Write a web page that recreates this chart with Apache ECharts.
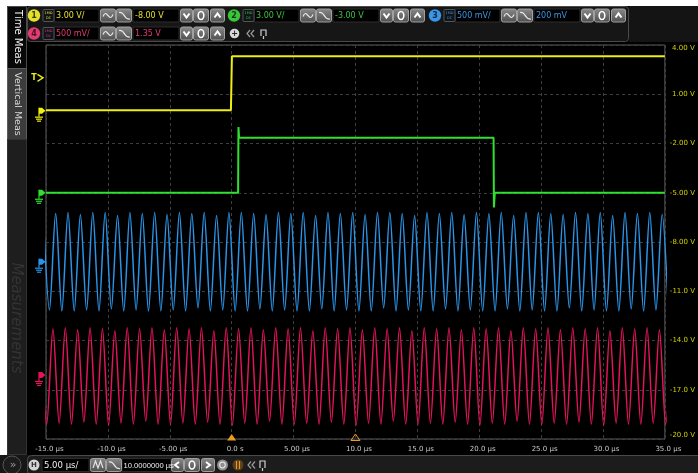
<!DOCTYPE html>
<html>
<head>
<meta charset="utf-8">
<script src="https://cdn.jsdelivr.net/npm/echarts@6/dist/echarts.min.js"></script>
<style>
html,body{margin:0;padding:0;background:#fff;}
#scope{width:698px;height:473px;}
</style>
</head>
<body>
<div id="scope"></div>
<script>
// ---- horizontal (time) axis, µs ----
const X_MIN = -15, X_MAX = 35, X_DIV = 5;
const xTickLabels = ['-15.0 µs','-10.0 µs','-5.00 µs','0.0 s','5.00 µs','10.0 µs','15.0 µs','20.0 µs','25.0 µs','30.0 µs','35.0 µs'];
// graticule labels, channel 1 volts, bottom division first
const yTickLabels = ['-20.0 V','-17.0 V','-14.0 V','-11.0 V','-8.00 V','-5.00 V','-2.00 V','1.00 V','4.00 V'];
const DIVS = 8;

// ---- vertical settings per channel (V/div, V at screen centre) ----
const ch1Scale = 3.0, ch1Offset = -8.0;
const ch2Scale = 3.0, ch2Offset = -3.0;
const ch3Scale = 0.5, ch3Offset = 0.2;
const ch4Scale = 0.5, ch4Offset = 1.35;
const trigLevel = 2.0;      // ch1 trigger level, V
const trigTime = 0;         // trigger point, µs
const delayRef = 10;        // horizontal delay reference, µs

// ---- channel 1: logic edge (t µs, V) ----
const ch1Trace = [[-15,0.02],[-0.06,0.02],[0.02,3.31],[35,3.31]];
// ---- channel 2: gated pulse (t µs, V) ----
const ch2Trace = [[-15,0.0],[0.52,0.0],[0.55,4.0],[0.60,3.35],[21.16,3.35],[21.19,-0.9],[21.26,0.0],[35,0.0]];

// ---- channel 3: 1 MHz sine, successive peaks/troughs every 0.5 µs ----
const ch3T0 = -15.22, ch3Dt = 0.5;
const ch3Extrema = [
 0.50,-0.49, 0.49,-0.50, 0.50,-0.50, 0.48,-0.49, 0.50,-0.50, 0.50,-0.48, 0.47,-0.50, 0.50,-0.49,
 0.49,-0.50, 0.50,-0.50, 0.48,-0.49, 0.50,-0.50, 0.49,-0.47, 0.50,-0.50, 0.47,-0.49, 0.50,-0.50,
 0.50,-0.50, 0.49,-0.48, 0.48,-0.50, 0.50,-0.49, 0.49,-0.50, 0.50,-0.50, 0.47,-0.48, 0.50,-0.50,
 0.49,-0.49, 0.50,-0.50, 0.48,-0.50, 0.50,-0.47, 0.50,-0.50, 0.49,-0.49, 0.47,-0.50, 0.50,-0.50,
 0.49,-0.48, 0.50,-0.50, 0.48,-0.49, 0.50,-0.50, 0.49,-0.50, 0.50,-0.48, 0.47,-0.50, 0.50,-0.49,
 0.50,-0.50, 0.49,-0.50, 0.48,-0.47, 0.50,-0.50, 0.49,-0.49, 0.50,-0.50, 0.47,-0.50, 0.50,-0.48,
 0.49,-0.50, 0.50,-0.49, 0.48,-0.50
];

// ---- channel 4: 1 MHz sine, successive peaks/troughs every 0.5 µs ----
const ch4T0 = -15.44, ch4Dt = 0.5;
const ch4Extrema = [
 0.48,-0.50, 0.47,-0.49, 0.48,-0.50, 0.46,-0.48, 0.48,-0.50, 0.47,-0.51, 0.45,-0.49, 0.48,-0.50,
 0.47,-0.47, 0.48,-0.50, 0.46,-0.50, 0.48,-0.49, 0.47,-0.50, 0.48,-0.48, 0.45,-0.50, 0.48,-0.51,
 0.47,-0.49, 0.48,-0.50, 0.46,-0.47, 0.48,-0.50, 0.47,-0.50, 0.48,-0.49, 0.45,-0.50, 0.48,-0.48,
 0.47,-0.50, 0.48,-0.51, 0.46,-0.49, 0.48,-0.50, 0.47,-0.47, 0.48,-0.50, 0.45,-0.50, 0.48,-0.49,
 0.47,-0.50, 0.48,-0.48, 0.46,-0.50, 0.48,-0.51, 0.47,-0.49, 0.48,-0.50, 0.45,-0.47, 0.48,-0.50,
 0.47,-0.50, 0.48,-0.49, 0.46,-0.50, 0.48,-0.48, 0.47,-0.50, 0.48,-0.51, 0.45,-0.49, 0.48,-0.50,
 0.47,-0.50, 0.48,-0.49, 0.46,-0.50, 0.48
];

const ch3Data = ch3Extrema.map((v, i) => [ch3T0 + i * ch3Dt, v]);
const ch4Data = ch4Extrema.map((v, i) => [ch4T0 + i * ch4Dt, v]);

const C1 = '#eeee10', C2 = '#2fe02f', C3 = '#2a94e8', C4 = '#e3145a';
const UI_FONT = 'DejaVu Sans';

function chAxis(scale, offset) {
  return { type: 'value', show: false, min: offset - scale * DIVS / 2, max: offset + scale * DIVS / 2 };
}

const chart = echarts.init(document.getElementById('scope'), null, { renderer: 'canvas', width: 698, height: 473 });

const lineBase = { type: 'line', showSymbol: false, symbol: 'none', animation: false, silent: true, xAxisIndex: 0 };
const gridLine = { show: true, lineStyle: { color: '#3e3e3e', type: [3, 3], width: 1 } };

chart.setOption({
  backgroundColor: '#000',
  animation: false,
  grid: { left: 46, right: 30, top: 45, bottom: 34, show: true, borderColor: '#5c5c5c', borderWidth: 1, backgroundColor: 'transparent' },
  xAxis: {
    type: 'value', min: X_MIN, max: X_MAX, interval: X_DIV,
    axisLine: { show: false }, axisTick: { show: false },
    splitLine: gridLine,
    axisLabel: {
      color: '#c8c8c8', fontSize: 7, fontFamily: UI_FONT, margin: 7, padding: [0, 0, 0, 7],
      formatter: v => xTickLabels[Math.round((v - X_MIN) / X_DIV)] || ''
    }
  },
  yAxis: [
    {
      type: 'value', min: 0, max: DIVS, interval: 1, position: 'right',
      axisLine: { show: false }, axisTick: { show: false },
      splitLine: gridLine,
      axisLabel: {
        color: '#d2d200', fontSize: 7, fontFamily: UI_FONT, margin: 5, align: 'left',
        verticalAlignMaxLabel: 'top', verticalAlignMinLabel: 'bottom',
        formatter: v => { const s = yTickLabels[Math.round(v)] || ''; return s.charAt(0) === '-' ? s : ' ' + s; }
      }
    },
    chAxis(ch1Scale, ch1Offset),
    chAxis(ch2Scale, ch2Offset),
    chAxis(ch3Scale, ch3Offset),
    chAxis(ch4Scale, ch4Offset)
  ],
  series: [
    Object.assign({}, lineBase, { name: '4', yAxisIndex: 4, data: ch4Data, smooth: 0.3, lineStyle: { color: C4, width: 1.5 } }),
    Object.assign({}, lineBase, { name: '3', yAxisIndex: 3, data: ch3Data, smooth: 0.3, lineStyle: { color: C3, width: 1.5 } }),
    Object.assign({}, lineBase, { name: '2', yAxisIndex: 2, data: ch2Trace, lineStyle: { color: C2, width: 2 } }),
    Object.assign({}, lineBase, { name: '1', yAxisIndex: 1, data: ch1Trace, lineStyle: { color: C1, width: 2 } })
  ]
});

// ---------- instrument frame (panels, buttons, markers) ----------
const G = [];
function rect(x, y, w, h, fill, stroke, r, z) {
  G.push({ type: 'rect', silent: true, z: z || 50, shape: { x, y, width: w, height: h, r: r || 0 }, style: { fill, stroke: stroke || null, lineWidth: 1 } });
}
function txt(x, y, s, color, font, align, extra) {
  G.push(Object.assign({ type: 'text', silent: true, z: 60, x, y,
    style: { text: s, fill: color, font, textAlign: align || 'left', textVerticalAlign: 'middle', verticalAlign: 'middle' } }, extra || {}));
}
function circle(cx, cy, r, fill, stroke, lw, z) {
  G.push({ type: 'circle', silent: true, z: z || 58, shape: { cx, cy, r }, style: { fill: fill || null, stroke: stroke || null, lineWidth: lw || 1 } });
}
function pline(points, stroke, lw, smooth, z) {
  G.push({ type: 'polyline', silent: true, z: z || 62, shape: { points, smooth: smooth || 0 }, style: { stroke, lineWidth: lw || 1, fill: null } });
}
function poly(points, fill, stroke, z) {
  G.push({ type: 'polygon', silent: true, z: z || 62, shape: { points }, style: { fill: fill || null, stroke: stroke || null, lineWidth: 1 } });
}
const btnFill = { type: 'linear', x: 0, y: 0, x2: 0, y2: 1, colorStops: [{ offset: 0, color: '#8a8a8a' }, { offset: 1, color: '#4e4e4e' }] };
function btn(x, y, w, h) {
  G.push({ type: 'rect', silent: true, z: 55, shape: { x: x + 0.5, y: y + 0.5, width: w - 1, height: h - 1, r: 2 }, style: { fill: btnFill, stroke: '#a0a0a0', lineWidth: 1 } });
}
function chevron(cx, cy, down) {
  const d = down ? 1 : -1;
  pline([[cx - 3, cy - 2 * d], [cx, cy + 2 * d], [cx + 3, cy - 2 * d]], '#ffffff', 2);
}
function ring(cx, cy) {
  G.push({ type: 'ellipse', silent: true, z: 62, shape: { cx, cy, rx: 2.8, ry: 4 }, style: { fill: null, stroke: '#ffffff', lineWidth: 1.6 } });
}
function waveBtns(x, y) {
  btn(x, y, 16, 14); btn(x + 16, y, 16, 14);
  pline([[x + 3, y + 8], [x + 5.5, y + 5], [x + 8, y + 7], [x + 10.5, y + 9], [x + 13, y + 6]], '#e8e8e8', 1.2, 0.5);
  pline([[x + 19, y + 4], [x + 22, y + 4.5], [x + 25, y + 8], [x + 27, y + 10], [x + 30, y + 10.5]], '#e8e8e8', 1.2, 0.5);
}
function posBtns(x, y) {
  btn(x, y, 13, 14); chevron(x + 6.5, y + 7, true);
  btn(x + 13, y, 16, 14); ring(x + 21, y + 7);
  btn(x + 30, y, 15, 14); chevron(x + 37.5, y + 7, false);
}
function field(x, y, w, s, color) {
  rect(x, y + 0.5, w, 13, '#000', '#2c2c2c', 0, 52);
  txt(x + 2, y + 7.5, s, color, '8px ' + UI_FONT, 'left');
}
function channelRow(dx, y, num, color, dark, scaleTxt, offTxt) {
  circle(34 + dx, y + 7, 6.2, color, null, 1, 58);
  txt(34 + dx, y + 7.3, num, dark, 'bold 8px ' + UI_FONT, 'center');
  rect(43 + dx, y + 1, 11, 12, '#101418', '#50555a', 1, 56);
  txt(48.5 + dx, y + 4.5, '1MΩ', color, '3.5px ' + UI_FONT, 'center');
  txt(48.5 + dx, y + 9.5, 'DC', color, '3.5px ' + UI_FONT, 'center');
  field(54 + dx, y, 45, scaleTxt, color);
  waveBtns(100 + dx, y);
  field(133 + dx, y, 46, offTxt, color);
  posBtns(180 + dx, y);
}

// white page edge
rect(0, 0, 698, 6, '#ffffff', null, 0, 40);
rect(0, 0, 7, 455, '#ffffff', null, 0, 40);
// top panel
rect(629, 6, 69, 36, '#141414', null, 0, 41);
rect(27.5, 6.5, 601, 35, '#161616', '#4a4a4a', 3, 45);
channelRow(0, 8.5, '1', '#e4e02a', '#3a3a10', '3.00 V/', '-8.00 V');
channelRow(200, 8.5, '2', '#3cc43c', '#103a10', '3.00 V/', '-3.00 V');
channelRow(401, 8.5, '3', '#3a96e6', '#0e2c4a', '500 mV/', '200 mV');
channelRow(0, 26.5, '4', '#e23a72', '#4a1024', '500 mV/', '1.35 V');
circle(234.5, 33.5, 4.8, '#d8d8d8', null, 1, 58);
txt(234.5, 33.7, '+', '#222', 'bold 8px ' + UI_FONT, 'center');
pline([[250, 30], [247, 33.5], [250, 37]], '#9a9a9a', 1.2);
pline([[254, 30], [251, 33.5], [254, 37]], '#9a9a9a', 1.2);
pline([[261, 36], [261, 30], [266, 30], [266, 36]], '#cfcfcf', 1.2);
pline([[263.5, 36], [263.5, 39]], '#cfcfcf', 1.2);

// left tab column
rect(7.5, 6.5, 19, 62, '#080808', '#4a4a4a', 0, 42);
rect(7.5, 68.5, 19, 71, '#3c3c3c', '#5c5c5c', 0, 42);
rect(7.5, 139.5, 19, 315, '#1e1e1e', '#333', 0, 42);
txt(17.5, 37, 'Time Meas', '#f2f2f2', '10px ' + UI_FONT, 'center', { rotation: -Math.PI / 2 });
txt(17, 104, 'Vertical Meas', '#d8d8d8', '9.5px ' + UI_FONT, 'center', { rotation: -Math.PI / 2 });
txt(16, 318, 'Measurements', '#343434', 'italic 15px ' + UI_FONT, 'center', { rotation: -Math.PI / 2 });

// bottom (horizontal) panel
rect(0, 455, 698, 18, '#161616', null, 0, 41);
rect(27.5, 455.5, 690, 20, '#1c1c1c', '#4a4a4a', 4, 45);
circle(12, 465, 9, '#1c1c1c', '#555', 1, 46);
txt(13, 465, '»', '#9a9a9a', '11px ' + UI_FONT, 'center');
circle(34, 465, 5.5, '#d4d4d4', null, 1, 58);
txt(34, 465.3, 'H', '#333', 'bold 7px ' + UI_FONT, 'center');
rect(42, 458.5, 47, 13, '#000', '#2c2c2c', 0, 52);
txt(44, 465.5, '5.00 µs/', '#f0f0f0', '8.5px ' + UI_FONT, 'left');
btn(90, 458, 16, 14); btn(106, 458, 16, 14);
pline([[93, 468], [95.5, 461], [98, 468], [100.5, 461], [103, 468]], '#e8e8e8', 1.1);
pline([[109, 462], [112, 462.5], [115, 466], [117, 468], [120, 468.5]], '#e8e8e8', 1.2, 0.5);
rect(122, 458.5, 49, 13, '#000', '#2c2c2c', 0, 52);
txt(123.5, 465.5, '10.0000000 µs', '#f0f0f0', '7.6px Liberation Sans', 'left');
btn(171, 458, 13, 14); pline([[179, 462], [175, 465], [179, 468]], '#fff', 2);
btn(184, 458, 16, 14); ring(192, 465);
btn(201, 458, 14, 14); pline([[206, 462], [210, 465], [206, 468]], '#fff', 2);
circle(222.5, 465, 5.5, '#8e8e8e', null, 1, 58);
circle(222.5, 465, 2.8, null, '#e0e0e0', 1.2, 59);
circle(238, 465, 5.5, '#5e3e16', null, 1, 58);
pline([[236.5, 461], [236.5, 469]], '#e09a30', 1.2);
pline([[239.5, 461], [239.5, 469]], '#e09a30', 1.2);
pline([[251, 461.5], [248, 465], [251, 468.5]], '#9a9a9a', 1.2);
pline([[255, 461.5], [252, 465], [255, 468.5]], '#9a9a9a', 1.2);
pline([[260, 468], [260, 461], [265, 461], [265, 468]], '#cfcfcf', 1.2);
pline([[262.5, 468], [262.5, 471]], '#cfcfcf', 1.2);

// ground reference markers and trigger markers, placed through the chart scales
function groundMarker(y, color) {
  poly([[39, y - 3], [42, y - 3], [45.5, y], [42, y + 3], [39, y + 3]], color, null, 70);
  pline([[39, y - 3], [39, y + 6]], color, 1.2, 0, 70);
  pline([[35, y + 6.5], [43, y + 6.5]], color, 1.2, 0, 70);
  pline([[36, y + 8.5], [42, y + 8.5]], color, 1.2, 0, 70);
  pline([[37, y + 10.5], [41, y + 10.5]], color, 1.2, 0, 70);
}
groundMarker(chart.convertToPixel({ yAxisIndex: 1 }, 0), C1);
groundMarker(chart.convertToPixel({ yAxisIndex: 2 }, 0), C2);
groundMarker(chart.convertToPixel({ yAxisIndex: 3 }, 0), C3);
groundMarker(chart.convertToPixel({ yAxisIndex: 4 }, 0), C4);

const ty = chart.convertToPixel({ yAxisIndex: 1 }, trigLevel);
txt(34, ty, 'T', C1, 'bold 8px ' + UI_FONT, 'center', { z: 70 });
pline([[37.5, ty - 3.5], [43, ty], [37.5, ty + 3.5]], C1, 1.4, 0, 70);

const tx = chart.convertToPixel({ xAxisIndex: 0 }, trigTime);
const dxr = chart.convertToPixel({ xAxisIndex: 0 }, delayRef);
poly([[tx - 4.5, 440.5], [tx, 434], [tx + 4.5, 440.5]], '#ee9a1c', null, 80);
poly([[dxr - 4.5, 440.5], [dxr, 434], [dxr + 4.5, 440.5]], null, '#ee9a1c', 80);

chart.setOption({ graphic: { elements: G } });
</script>
</body>
</html>
